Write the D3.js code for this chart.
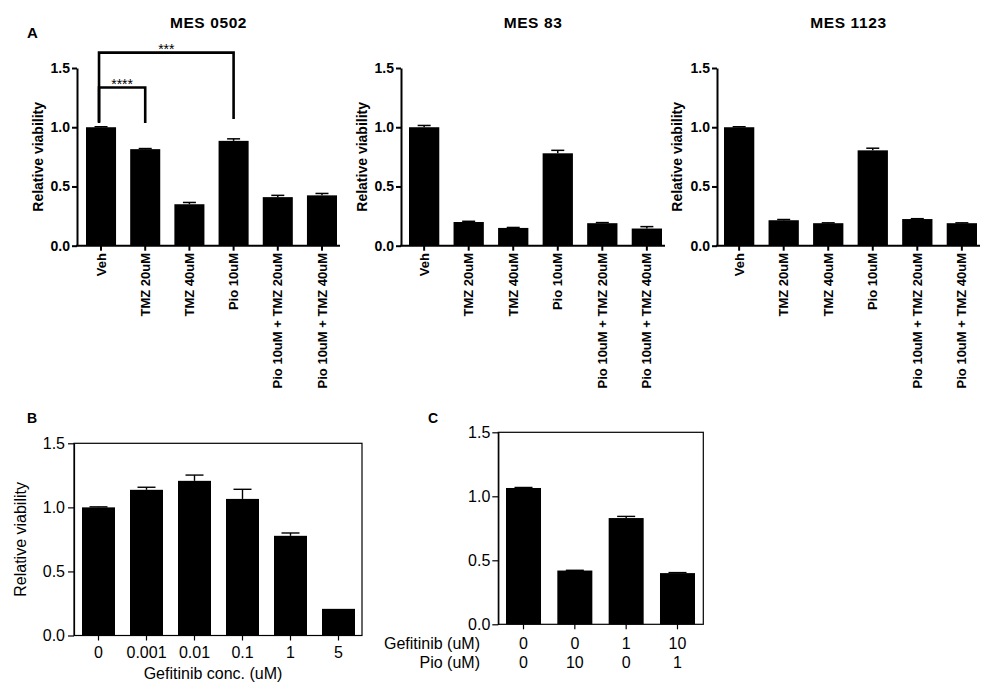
<!DOCTYPE html>
<html><head><meta charset="utf-8">
<script src="https://cdn.jsdelivr.net/npm/d3@7/dist/d3.min.js"></script>
<style>
body{margin:0;background:#fff;}
svg{display:block;font-family:"Liberation Sans",Arial,sans-serif;}
</style></head>
<body>
<svg id="c" width="1000" height="691"></svg>
<script>
// ---------- data ----------
const aCategories = ["Veh","TMZ 20uM","TMZ 40uM","Pio 10uM","Pio 10uM + TMZ 20uM","Pio 10uM + TMZ 40uM"];
const aTitles = ["MES 0502","MES 83","MES 1123"];
const mes0502 = [1.0, 0.815, 0.35, 0.885, 0.41, 0.425];
const mes0502Err = [0.004, 0.005, 0.015, 0.017, 0.015, 0.016];
const mes83 = [1.0, 0.20, 0.15, 0.78, 0.19, 0.145];
const mes83Err = [0.015, 0.006, 0.004, 0.025, 0.005, 0.016];
const mes1123 = [1.0, 0.215, 0.19, 0.805, 0.225, 0.19];
const mes1123Err = [0.004, 0.006, 0.003, 0.018, 0.003, 0.003];
const yTicks = [0, 0.5, 1.0, 1.5];
// significance brackets for MES 0502: [from, to, top, leftEnd, rightEnd, label]
const brackets0502 = [
  [0, 1, 1.335, 1.035, 1.035, "****"],
  [0, 3, 1.63, 1.045, 1.07, "***"]
];
const bCategories = ["0","0.001","0.01","0.1","1","5"];
const bValues = [1.0, 1.137, 1.207, 1.066, 0.778, 0.208];
const bErr = [0.004, 0.02, 0.045, 0.075, 0.022, 0.0];
const cGefitinib = ["0","0","1","10"];
const cPio = ["0","10","0","1"];
const cValues = [1.065, 0.42, 0.83, 0.40];
const cErr = [0.004, 0.002, 0.013, 0.004];

const svg = d3.select("#c");

// ---------- panel A ----------
const aLayout = [
  {axisX:77, axisEnd:340, barL:86, barR:337, ylabX:38},
  {axisX:401, axisEnd:665, barL:409, barR:662, ylabX:362},
  {axisX:717, axisEnd:980, barL:724, barR:977, ylabX:677}
];
const aData = [[mes0502, mes0502Err],[mes83, mes83Err],[mes1123, mes1123Err]];
const yA = d3.scaleLinear().domain([0,1.5]).range([245.7, 68]);

aLayout.forEach((L, i) => {
  const g = svg.append("g");
  const x = d3.scaleBand().domain(aCategories.map((d,j)=>j)).range([L.barL, L.barR]).paddingInner(0.32).paddingOuter(0);
  const vals = aData[i][0], errs = aData[i][1];
  // bars
  g.selectAll("rect").data(vals).join("rect")
    .attr("x",(d,j)=>x(j)).attr("width",x.bandwidth())
    .attr("y",d=>yA(d)).attr("height",d=>yA(0)-yA(d)).attr("fill","#000");
  // error bars
  vals.forEach((v,j)=>{
    if(errs[j] <= 0) return;
    const cx = x(j)+x.bandwidth()/2;
    g.append("line").attr("x1",cx).attr("x2",cx).attr("y1",yA(v)).attr("y2",yA(v+errs[j])).attr("stroke","#000").attr("stroke-width",1.5);
    g.append("line").attr("x1",cx-6.5).attr("x2",cx+6.5).attr("y1",yA(v+errs[j])).attr("y2",yA(v+errs[j])).attr("stroke","#000").attr("stroke-width",1.5);
  });
  // y axis
  const ya = g.append("g").attr("transform",`translate(${L.axisX},0)`)
    .call(d3.axisLeft(yA).tickValues(yTicks).tickFormat(d3.format(".1f")).tickSize(5).tickSizeOuter(0).tickPadding(2));
  ya.selectAll("path,line").attr("stroke-width",2);
  ya.selectAll("text").attr("font-size",14).attr("font-weight","bold").attr("font-family","Liberation Sans, Arial");
  // x axis
  const xa = g.append("g").attr("transform",`translate(0,${yA(0)})`)
    .call(d3.axisBottom(x).tickSize(5).tickSizeOuter(0).tickFormat(""));
  xa.select(".domain").remove();
  xa.selectAll("line").attr("stroke-width",2);
  g.append("line").attr("x1",L.axisX-1).attr("x2",L.axisEnd).attr("y1",yA(0)).attr("y2",yA(0)).attr("stroke","#000").attr("stroke-width",2);
  // x labels (rotated)
  g.selectAll("text.xl").data(aCategories).join("text").attr("class","xl")
    .attr("transform",(d,j)=>`translate(${x(j)+x.bandwidth()/2},253) rotate(-90)`)
    .attr("text-anchor","end").attr("dy","0.35em")
    .attr("font-size",13).attr("font-weight","bold").text(d=>d);
  // y label
  g.append("text").attr("transform",`translate(${L.ylabX},${(yA(0)+yA(1.5))/2}) rotate(-90)`)
    .attr("text-anchor","middle").attr("dy","0.35em").attr("font-size",14).attr("font-weight","bold").text("Relative viability");
  // title
  g.append("text").attr("x",(L.axisX+L.axisEnd)/2).attr("y",27.5).attr("text-anchor","middle")
    .attr("font-size",15.5).attr("font-weight","bold").attr("letter-spacing",0.6).text(aTitles[i]);
  // brackets
  if(i===0){
    brackets0502.forEach(b=>{
      const x1 = x(b[0])+x.bandwidth()/2 - 2, x2 = x(b[1])+x.bandwidth()/2;
      g.append("path").attr("d",`M${x1},${yA(b[3])}V${yA(b[2])}H${x2}V${yA(b[4])}`)
        .attr("fill","none").attr("stroke","#000").attr("stroke-width",2.6);
      g.append("text").attr("x",(x1+x2)/2).attr("y",yA(b[2])+1).attr("text-anchor","middle")
        .attr("font-size",14).attr("fill","#000").text(b[5]);
    });
  }
});
svg.append("text").attr("x",27).attr("y",38).attr("font-size",15).attr("font-weight","bold").text("A");

// ---------- panel B ----------
{
  const g = svg.append("g");
  const y = d3.scaleLinear().domain([0,1.5]).range([635.5, 443.3]);
  const x = d3.scaleBand().domain(bCategories).range([82, 355]).paddingInner(0.3125).paddingOuter(0);
  g.selectAll("rect").data(bValues).join("rect")
    .attr("x",(d,j)=>x(bCategories[j])).attr("width",x.bandwidth())
    .attr("y",d=>y(d)).attr("height",d=>y(0)-y(d)).attr("fill","#000");
  bValues.forEach((v,j)=>{
    if(bErr[j] <= 0) return;
    const cx = x(bCategories[j])+x.bandwidth()/2;
    g.append("line").attr("x1",cx).attr("x2",cx).attr("y1",y(v)).attr("y2",y(v+bErr[j])).attr("stroke","#000").attr("stroke-width",1.4);
    g.append("line").attr("x1",cx-9).attr("x2",cx+9).attr("y1",y(v+bErr[j])).attr("y2",y(v+bErr[j])).attr("stroke","#000").attr("stroke-width",1.4);
  });
  // frame
  g.append("rect").attr("x",74).attr("y",y(1.5)).attr("width",362-74).attr("height",y(0)-y(1.5))
    .attr("fill","none").attr("stroke","#000").attr("stroke-width",1.2);
  const ya = g.append("g").attr("transform","translate(74,0)")
    .call(d3.axisLeft(y).tickValues(yTicks).tickFormat(d3.format(".1f")).tickSize(6).tickSizeOuter(0).tickPadding(3));
  ya.selectAll("path,line").attr("stroke-width",1.2);
  ya.selectAll("text").attr("font-size",16).attr("font-family","Liberation Sans, Arial");
  const xa = g.append("g").attr("transform",`translate(0,${y(0)})`)
    .call(d3.axisBottom(x).tickSize(5).tickSizeOuter(0).tickPadding(6));
  xa.select(".domain").remove();
  xa.selectAll("line").attr("stroke-width",1.2);
  xa.selectAll("text").attr("font-size",16).attr("font-family","Liberation Sans, Arial");
  g.append("text").attr("x",213).attr("y",679).attr("text-anchor","middle").attr("font-size",16).text("Gefitinib conc. (uM)");
  g.append("text").attr("transform",`translate(20,${(y(0)+y(1.5))/2}) rotate(-90)`)
    .attr("text-anchor","middle").attr("dy","0.35em").attr("font-size",16).text("Relative viability");
  svg.append("text").attr("x",27).attr("y",423).attr("font-size",14).attr("font-weight","bold").text("B");
}

// ---------- panel C ----------
{
  const g = svg.append("g");
  const y = d3.scaleLinear().domain([0,1.5]).range([624.3, 432.3]);
  const idx = cValues.map((d,j)=>j);
  const x = d3.scaleBand().domain(idx).range([506, 695]).paddingInner(0.318).paddingOuter(0);
  g.selectAll("rect").data(cValues).join("rect")
    .attr("x",(d,j)=>x(j)).attr("width",x.bandwidth())
    .attr("y",d=>y(d)).attr("height",d=>y(0)-y(d)).attr("fill","#000");
  cValues.forEach((v,j)=>{
    if(cErr[j] <= 0) return;
    const cx = x(j)+x.bandwidth()/2;
    g.append("line").attr("x1",cx).attr("x2",cx).attr("y1",y(v)).attr("y2",y(v+cErr[j])).attr("stroke","#000").attr("stroke-width",1.4);
    g.append("line").attr("x1",cx-9).attr("x2",cx+9).attr("y1",y(v+cErr[j])).attr("y2",y(v+cErr[j])).attr("stroke","#000").attr("stroke-width",1.4);
  });
  g.append("rect").attr("x",498.3).attr("y",y(1.5)).attr("width",703.3-498.3).attr("height",y(0)-y(1.5))
    .attr("fill","none").attr("stroke","#000").attr("stroke-width",1.2);
  const ya = g.append("g").attr("transform","translate(498.3,0)")
    .call(d3.axisLeft(y).tickValues(yTicks).tickFormat(d3.format(".1f")).tickSize(6).tickSizeOuter(0).tickPadding(2));
  ya.selectAll("path,line").attr("stroke-width",1.2);
  ya.selectAll("text").attr("font-size",16).attr("font-family","Liberation Sans, Arial");
  const xa = g.append("g").attr("transform",`translate(0,${y(0)})`)
    .call(d3.axisBottom(x).tickSize(5).tickSizeOuter(0).tickFormat(""));
  xa.select(".domain").remove();
  xa.selectAll("line").attr("stroke-width",1.2);
  g.selectAll("text.gf").data(cGefitinib).join("text").attr("class","gf")
    .attr("x",(d,j)=>x(j)+x.bandwidth()/2).attr("y",643.5).attr("dy","0.35em").attr("text-anchor","middle").attr("font-size",16).text(d=>d);
  g.selectAll("text.pio").data(cPio).join("text").attr("class","pio")
    .attr("x",(d,j)=>x(j)+x.bandwidth()/2).attr("y",662.5).attr("dy","0.35em").attr("text-anchor","middle").attr("font-size",16).text(d=>d);
  g.append("text").attr("x",480).attr("y",643.5).attr("dy","0.35em").attr("text-anchor","end").attr("font-size",16).text("Gefitinib (uM)");
  g.append("text").attr("x",480).attr("y",662.5).attr("dy","0.35em").attr("text-anchor","end").attr("font-size",16).text("Pio (uM)");
  svg.append("text").attr("x",428).attr("y",423).attr("font-size",14).attr("font-weight","bold").text("C");
}
</script>
</body></html>
